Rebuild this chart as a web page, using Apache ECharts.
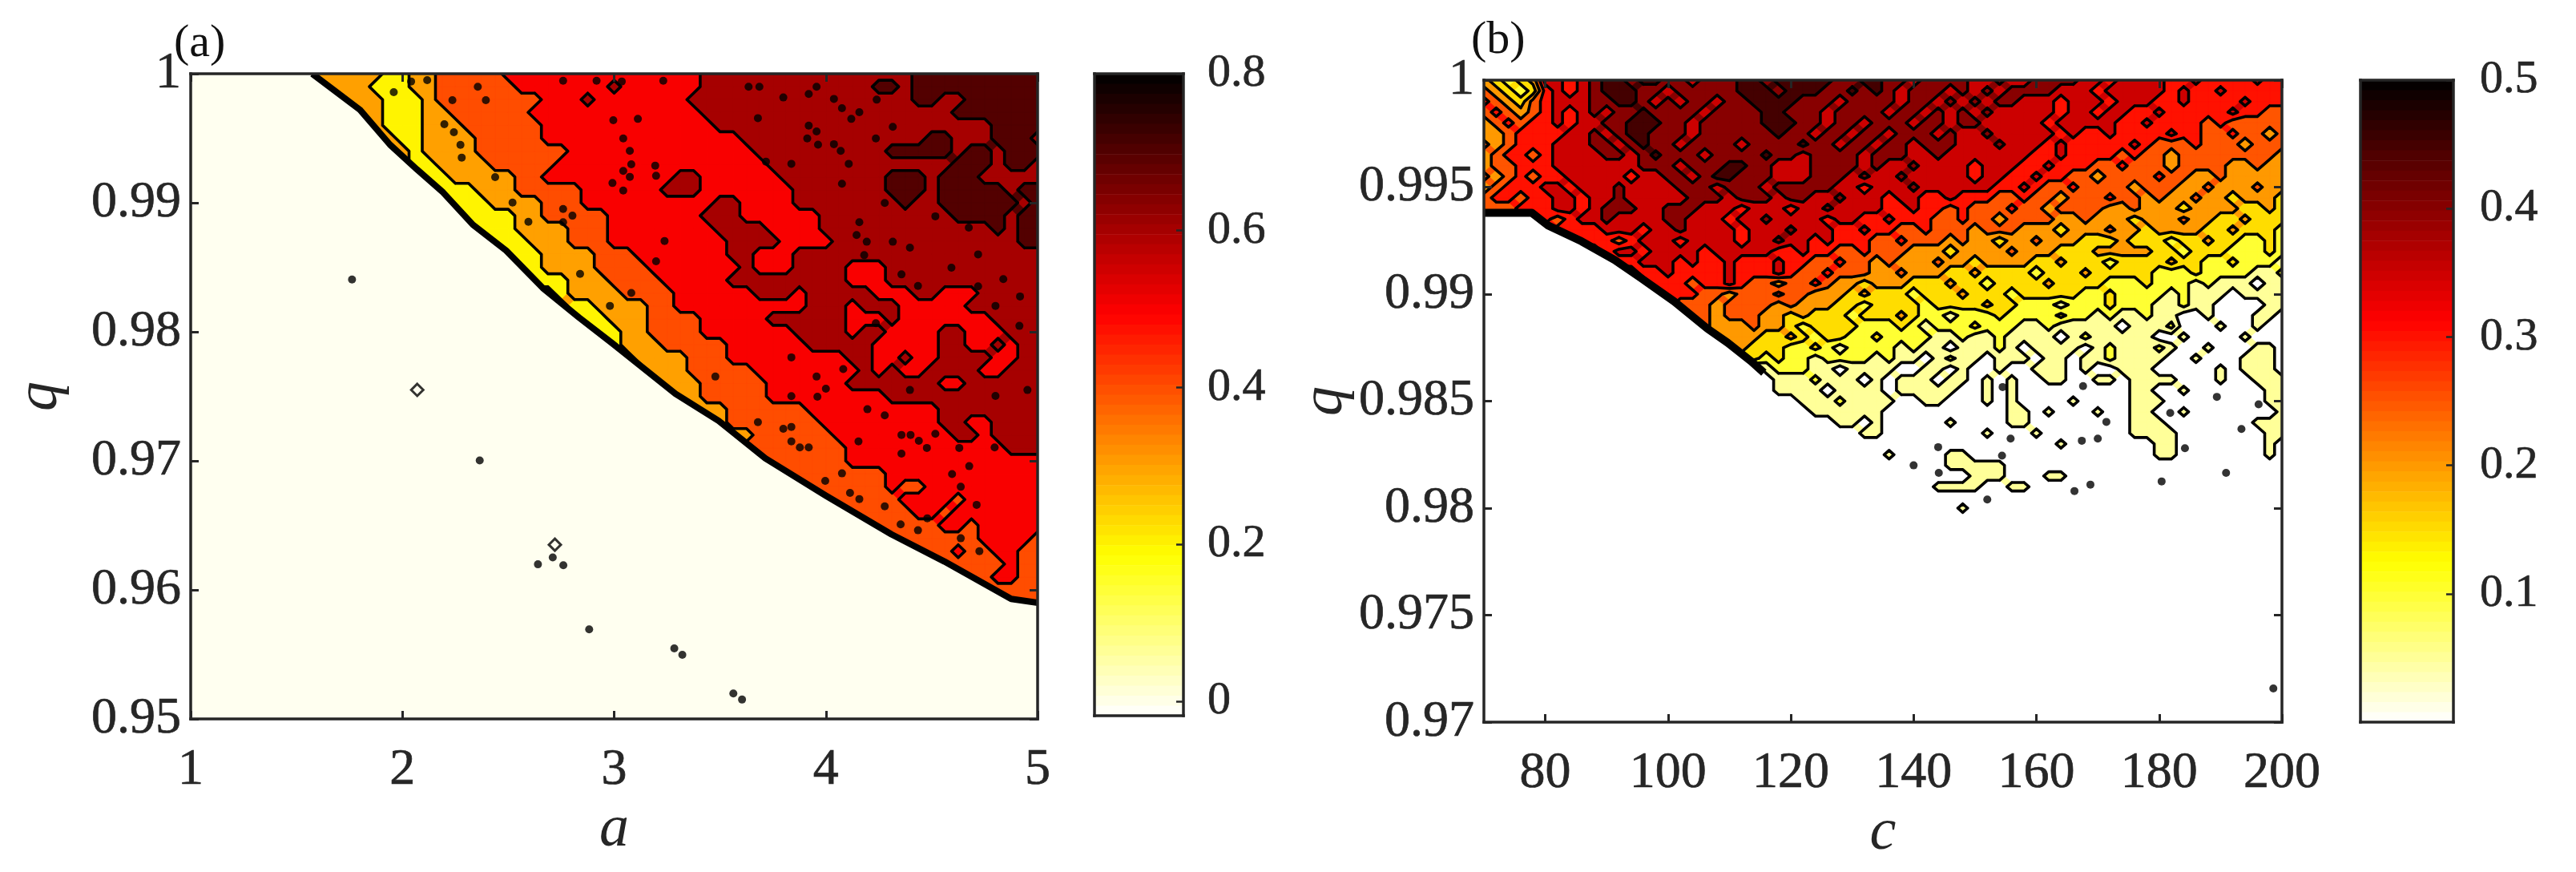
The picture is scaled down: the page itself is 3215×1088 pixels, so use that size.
<!DOCTYPE html>
<html><head><meta charset="utf-8"><style>html,body{margin:0;background:#fff}#c{width:3215px;height:1088px}</style>
<script src="https://cdn.jsdelivr.net/npm/echarts@6/dist/echarts.min.js"></script></head><body><div id="c"></div>
<script>
// ---- tick labels
const ticksXA=[1,2,3,4,5], ticksYA=[0.95,0.96,0.97,0.98,0.99,1], ticksCA=[0,0.2,0.4,0.6,0.8];
const ticksXB=[80,100,120,140,160,180,200], ticksYB=[0.97,0.975,0.98,0.985,0.99,0.995,1], ticksCB=[0.1,0.2,0.3,0.4,0.5];
const levelsA=[0.2,0.3,0.4,0.5,0.6,0.7];
const levelsB=[0.05,0.1,0.15,0.2,0.25,0.3,0.35,0.4,0.45];
// ---- panel (a): rows q=1,0.999,... ; columns a=1..5 step 0.0625, right aligned. Pairs: value in hundredths, run length
const runsA=[
[35,7,25,2,35,2,45,5,55,15,65,16,75,10],
[35,5,25,3,35,2,45,6,55,7,65,1,55,6,65,13,75,2,65,1,75,10],
[35,5,25,3,35,1,45,8,55,3,65,1,55,7,65,17,75,2,65,2,75,6],
[35,3,25,3,35,2,45,6,55,13,65,19,75,7],
[35,2,25,3,35,3,45,6,55,13,65,21,75,4],
[35,2,25,2,35,4,45,5,55,15,65,14,75,2,65,3,75,3,65,1],
[35,2,25,1,35,4,45,7,55,14,65,10,75,5,65,1,75,2,65,1,75,3],
[35,1,25,2,35,4,45,5,55,16,65,14,75,3,65,1,75,2,65,1],
[35,1,25,2,35,5,45,2,55,10,65,2,55,6,65,8,75,3,65,1,75,3,65,5],
[35,1,25,3,35,3,45,5,55,6,65,3,55,7,65,7,75,3,65,1,75,5,65,1,75,2],
[35,1,25,3,35,4,45,3,55,10,65,2,55,4,65,8,75,1,65,2,75,6,65,1,75,1],
[25,5,35,2,45,5,55,7,65,3,55,6,65,10,75,4,65,1,75,2],
[25,4,35,4,45,3,55,8,65,4,55,4,65,13,75,1,65,1,75,2],
[25,4,35,3,45,3,55,9,65,4,55,4,65,14,75,2],
[25,4,35,4,45,3,55,7,65,2,55,3,65,19],
[25,3,35,4,45,4,55,7,65,1,55,3,65,4,55,3,65,12],
[35,1,25,3,35,3,45,4,55,5,65,9,55,3,65,12],
[35,2,25,1,35,4,45,4,55,6,65,3,55,1,65,5,55,3,65,2,55,3,65,5],
[35,2,25,2,35,4,45,2,55,10,65,3,55,1,65,3,55,5,65,6],
[35,2,25,2,35,3,45,4,55,5,65,6,55,3,65,1,55,7,65,4],
[35,2,25,2,35,2,45,4,55,7,65,4,55,1,65,2,55,4,65,2,55,3,65,3],
[35,2,25,1,35,3,45,5,55,6,65,5,55,5,65,2,55,2,65,1,55,1,65,2],
[35,2,25,1,35,4,45,3,55,9,65,2,55,2,65,1,55,2,65,4,55,2,65,2],
[35,2,25,1,35,3,45,5,55,8,65,1,55,1,65,1,55,2,65,4,55,2,65,3],
[35,6,45,5,55,6,65,7,55,2,65,6],
[35,5,45,5,55,9,65,12],
[35,5,45,6,55,10,65,8],
[35,4,45,7,55,9,65,2,55,2,65,4],
[35,4,45,6,55,9,65,2,55,1,65,4],
[45,10,55,12,65,3],
[45,8,55,15],
[45,10,55,12],
[45,9,55,1,45,2,55,9],
[45,9,55,4,45,1,55,6],
[45,8,55,2,45,1,55,7],
[45,9,55,2,45,1,55,5],
[45,10,55,4,45,1],
[45,7,55,1,45,2,55,2,45,2],
[45,9,55,1,45,2],
[45,6,55,2,45,2],
[45,8],
[45,8]];
// thick lower edge of the filled region, [a,q]
const edgeA=[[1.574,1],[1.8,0.9972],[1.941,0.9945],[2.067,0.9926],[2.192,0.9908],[2.333,0.9883],[2.49,0.9863],[2.663,0.9834],[2.835,0.9811],[2.992,0.9791],[3.29,0.9752],[3.494,0.9731],[3.714,0.9702],[4,0.9673],[4.31,0.9643],[4.56,0.9622],[4.875,0.9593],[5,0.959]];
// small closed contours, [a,q]
const dotsA=[[1.762,.98405],[2.365,.97003],[2.71,.96252],[2.76,.96191],[2.64,.96198],[2.882,.95694],[3.322,.95497],[3.284,.95547],[3.604,.9515],[3.563,.95197],
[2.041,.9994],[2.117,.9995],[1.959,.99857],[2.236,.99795],[2.394,.99795],[2.356,.99899],[2.198,.99609],[2.243,.99547],[2.274,.99449],[2.28,.9935],[2.438,.99199],[2.52,.99002],[2.759,.98952],[2.803,.989],[2.759,.98849],[2.595,.98853],[2.839,.98449],[3.081,.98301],[2.98,.98201],[3.043,.99499],[3.074,.99402],[3.081,.99298],[3.043,.99247],[3.074,.99201],[2.992,.99153],[3.043,.99095],[3.194,.99288],[3.198,.99209],[3.238,.98704],[3.198,.98547],[3.112,.9965],[2.996,.9964],[2.759,.99946],[2.917,.99946],[3.036,.9994],[3.232,.99946],
[3.635,.99899],[3.686,.99899],[3.956,.99899],[3.799,.99816],[3.919,.99843],[4.038,.99805],[4.24,.99799],[4.076,.99733],[4.158,.99702],[3.679,.99656],[4.12,.9965],[3.919,.99598],[3.956,.99553],[3.912,.99499],[3.963,.9945],[4.038,.99454],[4.07,.99402],[4.316,.99588],[4.236,.99499],[4.076,.99147],[4.278,.98998],[4.158,.98849],[4.517,.98895],[4.675,.98808],[4.145,.9875],[4.193,.98698],[4.316,.98698],[4.397,.98652],[4.181,.98594],[4.719,.986],[4.593,.98497],[4.357,.98445],[4.435,.98356],[4.719,.98352],[4.838,.98408],[4.801,.98201],[4.917,.98274],[4.914,.98046],[4.236,.98067],[4,.97559],[3.956,.97653],[3.837,.97802],[4.082,.97711],[3.478,.97653],[4.397,.97549],[4.952,.97549],[4.801,.97503],[3.717,.99319],[3.837,.99302],[4.108,.99302],
[4.196,.974],[4.278,.97352],[3.837,.97501],[3.96,.97497],[3.679,.973],[3.799,.97249],[3.837,.97263],[3.837,.97151],[3.877,.97104],[3.919,.97104],[4.154,.97151],[4.357,.97201],[4.4,.97201],[4.439,.97155],[4.517,.9721],[4.477,.971],[4.357,.97056],[4.63,.971],[4.797,.97104],[4.677,.96959],[4.596,.96897],[4.637,.96799],[4.076,.96903],[3.997,.96845],[4.114,.96752],[4.158,.96704],[4.278,.96648],[4.353,.96508],[4.479,.96555],[4.435,.96462],[4.725,.963],[4.712,.96659],[4.637,.964]];
const ringsA=[[2.07,.9755],[2.72,.9635]];
// ---- panel (b): rows q=1,0.9995,... ; columns c=70..200 step 2, right aligned; values in hundredths
const zB=[
[22,17,12,17,22,37,37,32,37,42,47,47,42,47,47,42,42,37,42,42,42,47,47,42,47,47,47,47,47,42,42,47,47,42,42,37,42,42,42,42,37,37,42,37,37,42,42,42,42,37,37,32,37,37,37,37,32,32,37,32,32,32,32,37,32,32],
[27,22,17,12,17,32,37,32,37,42,47,47,47,42,42,37,42,42,42,42,42,47,47,47,42,47,47,47,42,42,47,42,47,42,37,42,42,42,37,42,37,42,37,42,42,42,42,37,37,37,32,37,37,37,37,37,32,37,32,32,37,32,32,32,32,32],
[32,27,22,17,27,32,37,37,37,42,42,47,47,42,37,42,37,42,42,37,42,42,47,47,47,47,42,42,42,37,42,42,42,42,37,42,42,37,42,37,42,37,42,42,37,37,37,32,37,37,37,32,37,37,37,32,32,37,32,32,32,32,37,32,32,32],
[27,32,27,22,27,32,37,32,37,42,37,42,42,47,42,42,42,42,37,42,42,42,42,47,47,42,42,42,37,42,42,42,42,37,42,42,37,42,37,42,37,42,37,37,37,37,37,32,37,37,32,37,37,32,32,37,32,32,32,32,32,37,32,32,27,27],
[22,27,32,27,32,32,37,32,37,37,42,42,47,47,47,42,42,37,42,42,42,42,42,47,47,47,42,42,37,42,42,37,42,42,42,37,42,42,37,42,42,37,37,37,37,37,32,37,37,37,37,37,32,32,37,32,32,32,32,27,32,27,27,27,27,27],
[22,22,27,32,32,32,32,37,37,42,37,42,47,47,42,42,42,37,42,42,42,42,42,42,47,42,42,37,42,42,37,42,42,37,42,42,42,37,42,37,37,42,37,37,37,37,37,32,37,32,32,37,32,32,32,32,37,32,32,27,27,32,27,27,22,27],
[27,22,27,32,32,32,37,37,37,42,42,37,42,47,42,42,37,42,42,42,42,37,42,42,42,42,47,42,42,37,42,42,37,42,42,37,42,42,42,37,37,37,42,37,37,37,32,37,32,32,32,32,32,37,32,27,27,27,32,27,27,27,22,27,27,27],
[22,27,32,32,27,32,37,37,37,37,42,42,37,42,47,42,42,42,37,42,42,42,42,47,42,42,37,42,42,42,42,37,42,42,42,37,37,42,37,37,37,37,37,37,37,32,32,37,32,32,32,32,27,32,27,27,22,27,27,27,27,27,27,27,27,22],
[22,27,27,32,32,32,37,37,37,37,37,37,37,42,42,42,37,42,42,42,47,47,42,42,37,37,37,42,42,42,42,37,42,37,37,42,37,37,37,37,32,37,37,37,32,32,37,32,32,32,27,27,32,27,27,27,22,27,27,27,27,22,22,27,22,22],
[27,22,27,32,27,32,32,37,37,37,37,37,32,37,37,42,42,37,42,47,47,42,42,42,37,37,37,42,42,42,37,42,37,37,42,37,37,37,37,37,32,37,37,32,32,37,32,32,27,27,22,27,27,27,27,32,27,27,22,22,27,22,22,22,22,22],
[22,27,32,32,32,37,37,32,37,37,37,42,37,37,37,37,42,42,42,37,42,42,42,37,42,42,42,42,42,37,37,32,37,37,37,42,37,37,37,37,37,37,32,32,37,32,27,27,32,27,27,27,27,22,27,27,27,22,22,27,22,22,22,27,22,22],
[27,32,32,27,32,32,37,37,32,37,37,42,37,37,37,37,37,42,42,42,37,42,42,42,37,42,42,37,37,42,37,37,37,32,37,37,32,32,37,32,32,32,27,27,32,27,27,22,27,27,27,32,27,27,22,27,22,22,27,22,22,17,22,22,22,17],
[27,27,27,32,32,32,37,37,32,37,42,42,42,37,37,42,42,42,37,37,37,32,37,37,37,32,37,37,42,37,37,37,37,32,32,37,32,32,27,32,27,27,27,32,27,27,22,27,27,27,27,22,22,27,22,22,22,17,22,22,22,22,17,17,22,17],
[22,27,22,27,32,32,27,32,37,37,42,37,37,37,37,42,42,37,37,37,32,37,37,42,37,37,37,37,32,37,37,32,32,37,32,32,32,27,27,32,27,27,22,27,27,27,27,22,22,27,22,22,22,17,22,22,22,27,22,22,17,17,22,17,17,17],
[22,22,22,22,27,27,32,32,32,32,37,37,37,32,37,37,42,37,37,37,37,32,37,37,37,42,37,37,37,32,32,37,32,32,27,27,32,27,27,27,22,27,27,27,22,22,22,17,22,22,22,27,22,22,17,22,22,22,22,17,17,22,17,17,17,12],
[32,32,32,27,32,37,37,37,32,37,37,37,37,32,37,37,42,37,37,32,37,32,32,32,27,27,32,27,27,27,22,27,22,22,17,22,22,27,22,22,22,17,17,17,22,17,17,17,12,17,17,22,17,17,12,12,17,12],
[27,32,37,37,32,37,37,37,37,32,37,37,37,37,37,32,32,37,32,32,27,27,32,27,27,27,22,22,22,17,22,22,22,22,27,22,22,22,17,17,17,22,22,22,22,22,17,17,12,17,17,17,12,12,12,17,12],
[27,32,32,37,37,37,32,37,32,32,37,32,32,32,37,32,32,27,27,32,27,27,22,27,22,22,22,27,22,22,17,22,22,22,22,17,17,22,17,17,17,12,17,17,17,17,22,17,17,12,12,17,12,12,12,7],
[27,32,32,37,32,32,32,32,37,32,32,32,37,32,27,27,32,27,27,27,22,22,27,22,22,22,17,17,22,17,17,17,17,12,17,17,17,22,17,17,17,17,17,12,12,12,17,12,12,12,12,7,7,12],
[27,32,32,32,27,32,32,37,32,27,27,22,27,27,32,27,22,22,17,22,22,22,17,17,17,22,17,17,12,17,17,17,17,22,17,17,17,17,12,12,12,17,12,12,12,7,12,7,7,7,2,7,7],
[27,32,32,32,27,27,22,27,27,27,32,27,27,22,22,22,17,22,17,17,17,12,17,17,17,22,17,17,17,12,17,17,17,17,17,12,12,17,12,12,12,12,7,12,7,7,7,2,7,7,7,7],
[32,27,27,27,22,27,27,27,27,22,27,22,22,22,17,17,12,17,17,17,17,12,17,17,17,17,22,17,17,12,12,12,7,12,12,12,17,12,12,12,7,7,12,7,7,2,2,2,2,7,7],
[27,27,27,22,27,27,27,22,22,17,22,17,17,17,12,17,17,17,22,17,12,12,7,12,12,12,17,12,12,12,12,17,12,12,7,12,7,7,12,7,7,2,2,7,2,2,2,7,7,2],
[27,27,22,22,22,27,22,22,17,12,17,17,17,17,12,12,12,17,12,7,12,12,12,17,12,12,12,7,7,12,7,7,7,7,7,2,7,7,7,12,2,2,2,7,2,2,7,2,2],
[27,22,22,22,22,17,17,22,17,12,17,17,12,12,17,12,12,12,12,7,7,12,7,7,12,7,7,7,7,2,7,12,7,7,7,7,7,2,2,7,2,2,2,2,7,2,2,2],
[27,22,22,17,17,17,12,12,17,12,7,12,12,12,12,7,12,7,7,2,7,7,7,12,7,2,7,7,7,7,2,7,12,7,7,7,12,7,2,2,7,2,2,2,7,7,2],
[22,17,17,12,17,12,12,7,12,12,12,12,7,12,7,7,2,7,12,7,7,2,7,7,7,2,7,7,2,7,7,12,7,7,7,7,2,2,7,2,2,2,7,7,7,2],
[2,7,12,12,12,7,7,2,7,7,7,7,2,2,7,7,2,7,2,2,7,2,2,7,7,7,2,7,2,2,7,7,7,2,2,2,2,2,7,2,7,7,7,2],
[2,2,7,7,7,12,7,7,7,2,7,2,7,7,7,2,7,7,2,7,2,7,2,2,7,7,2,2,7,7,2,7,7,7,7,2,2,2,7,2,2,7,7,7],
[2,2,7,7,7,7,2,7,7,7,7,2,7,7,7,7,7,2,2,7,2,7,2,2,2,2,2,2,2,2,2,7,7,2,2,7,2,2,2,2,2,2,7,7],
[2,2,7,7,7,12,7,7,7,7,2,2,7,7,2,2,2,7,2,7,2,2,2,2,7,2,2,2,2,7,7,7,2,2,2,2,2,2,2,2,7,7],
[2,7,7,7,7,7,7,2,2,2,2,2,2,2,2,2,2,7,7,2,7,2,2,2,7,2,2,7,7,2,2,7,2,2,2,2,2,2,2,7],
[2,7,7,2,7,2,2,2,2,2,7,2,2,2,2,7,7,2,2,2,2,2,2,2,2,7,7,7,2,2,2,2,2,2,2,7,7,7],
[2,2,7,7,2,2,2,2,2,2,2,2,7,2,2,2,7,2,2,2,2,2,2,2,7,7,7,7,2,2,2,2,2,2,2,7,7],
[2,2,2,2,2,2,2,2,2,2,2,2,2,2,2,2,7,2,2,2,2,2,2,2,7,7,2,2,2,2,2,2,2,7,2],
[2,2,7,2,2,2,2,7,7,2,2,2,2,2,2,2,2,2,2,2,2,2,2,2,7,7,2,2,2,2,2,2,2,7,2],
[2,2,7,7,7,7,7,2,2,2,2,2,2,2,2,2,2,2,2,2,2,2,2,2,2,2,2,2,2,2],
[2,2,2,2,7,7,7,2,2,2,7,7,2,2,2,2,2,2,2,2,2,2,2,2,2,2,2,2,2,2],
[2,7,7,7,7,2,2,7,7,2,2,2,2,2,2,2,2,2,2,2,2,2,2,2,2,2,2,2,2,2],
[2],
[2,7,2,2,2,2,2,2,2,2,2,2,2,2,2,2,2,2,2,2,2,2,2,2,2,2,2,2],
[2]];
const edgeB=[[70,0.9938],[77.8,0.9938],[80.5,0.9932],[85.9,0.99247],[91.3,0.9916],[95.6,0.99075],[101,0.98966],[106.4,0.98839],[109.7,0.98773],[113.5,0.98687],[115.6,0.98633]];
const dotsB=[[154.5,.98566],[144,.98285],[140,.982],[144.1,.98165],[152,.9804],[155.8,.98325],[154.4,.98245],[167.4,.98315],[170,.98325],[168.8,.9811],[166.2,.9808],[180.4,.98125],[190.9,.98165],[184.2,.9828],[193.4,.9837],[196.2,.98485],[171.4,.98403],[181.8,.98445],[189.4,.9852],[167.6,.9857],[198.6,.97157]];

// ---- helpers
const INK='#262626', FONT='"Liberation Serif"';
const colsA=65, colsB=66;
const xA=Array.from({length:colsA},(_,i)=>1+i*0.0625), yA=runsA.map((_,j)=>1-j*0.001);
const xB=Array.from({length:colsB},(_,i)=>70+i*2), yB=zB.map((_,j)=>1-j*0.0005);
function expand(r){const o=[];for(let k=0;k<r.length;k+=2)for(let n=0;n<r[k+1];n++)o.push(r[k]);return o;}
function fit(r,cols){ if(r.length>=cols)return r.slice(r.length-cols); return Array(cols-r.length).fill(r[0]).concat(r);}
const gridA=runsA.map(r=>fit(expand(r),colsA).map(v=>v/100));
const gridB=zB.map(r=>fit(r,colsB).map(v=>v/100));
function hot(t){const c=v=>Math.round(255*Math.max(0,Math.min(1,v)));return `rgb(${c(t/0.375)},${c((t-0.375)/0.375)},${c((t-0.75)/0.25)})`;}

function contourPaths(api,xs,ys,z,L){
  const P=ys.map(y=>xs.map(x=>api.coord([x,y])));
  let fill=[],line=[];
  const f=n=>n.toFixed(1);
  for(let j=0;j<ys.length-1;j++)for(let i=0;i<xs.length-1;i++){
    const v=[z[j][i],z[j][i+1],z[j+1][i+1],z[j+1][i]], p=[P[j][i],P[j][i+1],P[j+1][i+1],P[j+1][i]];
    const n=v.filter(a=>a>=L).length; if(!n)continue;
    const poly=[],cross=[];
    for(let k=0;k<4;k++){const m=(k+1)%4,a=v[k]>=L,b=v[m]>=L;
      if(a)poly.push(p[k]);
      if(a!==b){const t=(L-v[k])/(v[m]-v[k]),q=[p[k][0]+t*(p[m][0]-p[k][0]),p[k][1]+t*(p[m][1]-p[k][1])];poly.push(q);cross.push(q);}}
    fill.push('M'+poly.map(q=>f(q[0])+' '+f(q[1])).join('L')+'Z');
    const seg=(a,b)=>line.push('M'+f(a[0])+' '+f(a[1])+'L'+f(b[0])+' '+f(b[1]));
    if(cross.length===2)seg(cross[0],cross[1]);
    else if(cross.length===4){ if(v[0]>=L){seg(cross[0],cross[3]);seg(cross[1],cross[2]);} else {seg(cross[0],cross[1]);seg(cross[2],cross[3]);} }
  }
  return {fill:fill.join(''),line:line.join('')};
}
function contourSeries(ax,xs,ys,z,levels,vmin,vmax,lw){
  const data=levels.map(()=>[xs[0],ys[0]]);
  const col=L=>hot((vmax-L)/(vmax-vmin));
  return [
   {type:'custom',xAxisIndex:ax,yAxisIndex:ax,silent:true,animation:false,clip:true,z:2,data,
    renderItem:(p,api)=>({type:'path',shape:{pathData:contourPaths(api,xs,ys,z,levels[p.dataIndex]).fill},style:{fill:col(levels[p.dataIndex]),stroke:col(levels[p.dataIndex]),lineWidth:0.5}})},
   {type:'custom',xAxisIndex:ax,yAxisIndex:ax,silent:true,animation:false,clip:true,z:3,data,
    renderItem:(p,api)=>({type:'path',shape:{pathData:contourPaths(api,xs,ys,z,levels[p.dataIndex]).line||'M0 0'},style:{fill:null,stroke:'#000',lineWidth:lw,lineCap:'round',lineJoin:'round'}})}
  ];
}
function edgeSeries(ax,edge,closing,cover,lw){
  return {type:'custom',xAxisIndex:ax,yAxisIndex:ax,silent:true,animation:false,clip:true,z:4,data:[edge[0]],
    renderItem:(p,api)=>{
      const s=a=>a.map(q=>{const c=api.coord(q);return c[0].toFixed(1)+' '+c[1].toFixed(1);}).join('L');
      return {type:'group',children:[
        {type:'path',shape:{pathData:'M'+s(edge.concat(closing))+'Z'},style:{fill:cover,stroke:null}},
        {type:'path',shape:{pathData:'M'+s(edge)},style:{fill:null,stroke:'#000',lineWidth:lw,lineJoin:'round'}}]};
    }};
}
function colorbar(ax,vmin,vmax){
  const n=64,step=(vmax-vmin)/n,data=Array.from({length:n},(_,i)=>[0.5,vmax-i*step]);
  return {type:'custom',xAxisIndex:ax,yAxisIndex:ax,silent:true,animation:false,z:2,data,
    renderItem:(p,api)=>{const v=data[p.dataIndex][1],a=api.coord([0,v]),b=api.coord([1,v-step]);
      return {type:'rect',shape:{x:a[0],y:a[1],width:b[0]-a[0],height:b[1]-a[1]+0.6},style:{fill:hot((p.dataIndex+0.5)/n)}};}};
}
const fmt=v=>String(+(+v).toFixed(3));
const txt=s=>({fontFamily:FONT,fontSize:s,color:INK,textBorderColor:INK,textBorderWidth:0.7});
function hAxis(g,pos,min,max,ticks,show,extra){return Object.assign({type:'value',gridIndex:g,position:pos,min,max,z:10,splitLine:{show:false},
  axisLine:{show:true,onZero:false,lineStyle:{color:INK,width:3.5,cap:'square'}},
  axisTick:{show:!!ticks,inside:true,length:10,lineStyle:{color:INK,width:3},customValues:ticks||undefined},
  axisLabel:show?Object.assign({show:true,margin:32,customValues:ticks,formatter:fmt,hideOverlap:false,showMinLabel:true,showMaxLabel:true},txt(64)):{show:false}},extra||{});}
function vAxis(g,pos,min,max,ticks,show,size,margin,tick,extra){return Object.assign({type:'value',gridIndex:g,position:pos,min,max,z:10,splitLine:{show:false},
  axisLine:{show:true,onZero:false,lineStyle:{color:INK,width:3.5,cap:'square'}},
  axisTick:{show:!!ticks,inside:true,length:tick,lineStyle:{color:INK,width:tick<10?2.5:3},customValues:ticks||undefined},
  axisLabel:show?Object.assign({show:true,margin,customValues:ticks,formatter:fmt,hideOverlap:false,showMinLabel:true,showMaxLabel:true},txt(size)):{show:false}},extra||{});}
const nameX=(n,gap)=>({name:n,nameLocation:'middle',nameGap:gap,nameTextStyle:{fontFamily:FONT,fontStyle:'italic',fontSize:74,color:INK}});
const nameY=(n,gap)=>({name:n,nameLocation:'middle',nameGap:gap,nameRotate:90,nameTextStyle:{fontFamily:FONT,fontStyle:'italic',fontSize:74,color:INK}});
const gridBase={show:false,containLabel:false,outerBoundsMode:'none'};
const chart=echarts.init(document.getElementById('c'),null,{renderer:'canvas'});
chart.setOption({
  animation:false,backgroundColor:'#fff',
  grid:[Object.assign({left:238,top:92,width:1057,height:805},gridBase),
        Object.assign({left:1366,top:92,width:111,height:801},gridBase),
        Object.assign({left:1852,top:100,width:996,height:801},gridBase),
        Object.assign({left:2946,top:100,width:116,height:801},gridBase)],
  xAxis:[hAxis(0,'bottom',1,5,ticksXA,true,nameX('a',92)),hAxis(0,'top',1,5,ticksXA,false),
         hAxis(1,'bottom',0,1,null,false),hAxis(1,'top',0,1,null,false),
         hAxis(2,'bottom',70,200,ticksXB,true,nameX('c',92)),hAxis(2,'top',70,200,ticksXB,false),
         hAxis(3,'bottom',0,1,null,false),hAxis(3,'top',0,1,null,false)],
  yAxis:[vAxis(0,'left',0.95,1,ticksYA,true,64,12,10,nameY('q',150)),vAxis(0,'right',0.95,1,ticksYA,false,64,12,10),
         vAxis(1,'left',-0.0184,0.8,null,false),vAxis(1,'right',-0.0184,0.8,ticksCA,true,58,30,9),
         vAxis(2,'left',0.97,1,ticksYB,true,64,12,10,nameY('q',156)),vAxis(2,'right',0.97,1,ticksYB,false,64,12,10),
         vAxis(3,'left',0,0.5,null,false),vAxis(3,'right',0,0.5,ticksCB,true,58,33,9)],
  // series axis indices: grid g uses xAxis/yAxis 2*g
  series:[
    ...contourSeries(0,xA,yA,gridA,levelsA,-0.0184,0.8,3.6),
    edgeSeries(0,edgeA,[[5,0.95],[1,0.95],[1,1]],'#FFFFF0',8),
    {type:'scatter',xAxisIndex:0,yAxisIndex:0,silent:true,z:5,symbol:'circle',symbolSize:10,itemStyle:{color:'#000'},data:dotsA,animation:false},
    {type:'scatter',xAxisIndex:0,yAxisIndex:0,silent:true,z:5,symbol:'diamond',symbolSize:15,itemStyle:{color:'#FFFFF0',borderColor:'#000',borderWidth:3},data:ringsA,animation:false},
    colorbar(2,-0.0184,0.8),
    ...contourSeries(4,xB,yB,gridB,levelsB,0,0.5,3.6),
    edgeSeries(4,edgeB,[[115.6,0.97],[70,0.97]],'#FFFFFF',10),
    {type:'scatter',xAxisIndex:4,yAxisIndex:4,silent:true,z:5,symbol:'circle',symbolSize:10,itemStyle:{color:'#000'},data:dotsB,animation:false},
    colorbar(6,0,0.5)
  ],
  graphic:[
    {type:'text',left:217,top:26,z:20,style:{text:'(a)',font:'58px "Liberation Serif"',fill:'#111'}},
    {type:'text',left:1836,top:22,z:20,style:{text:'(b)',font:'58px "Liberation Serif"',fill:'#111'}}
  ]
});
</script></body></html>
